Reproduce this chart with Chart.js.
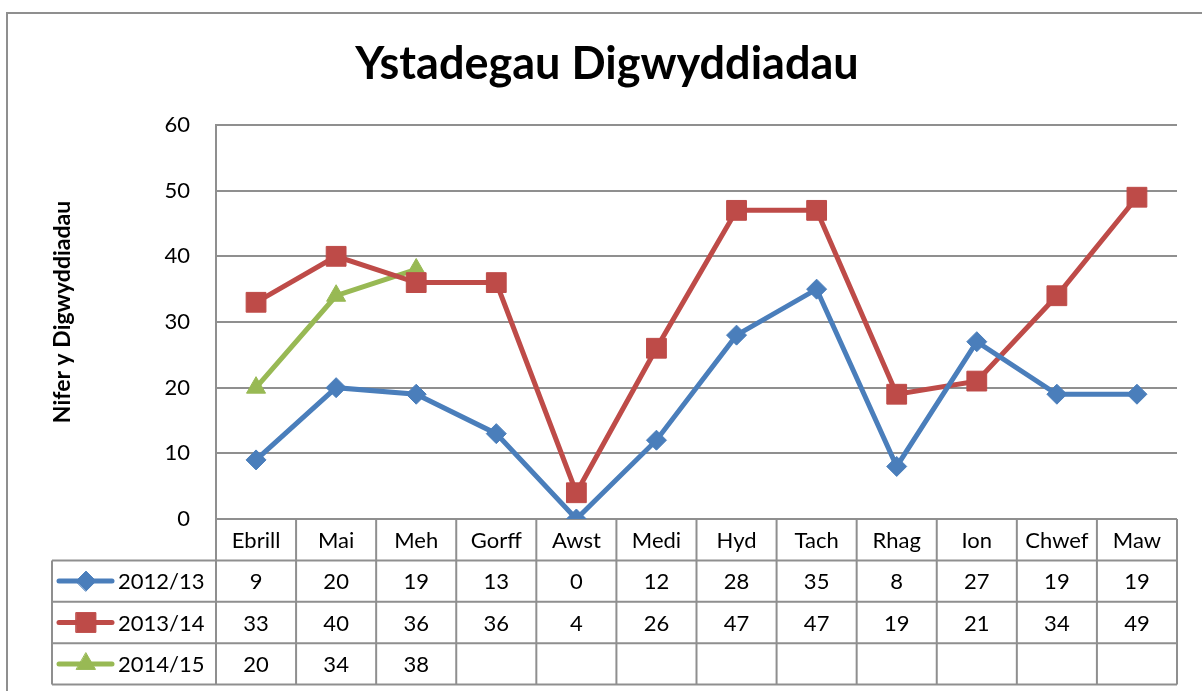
<!DOCTYPE html>
<html><head><meta charset="utf-8">
<script src="https://cdn.jsdelivr.net/npm/chart.js@4/dist/chart.umd.min.js"></script>
<style>html,body{margin:0;padding:0;background:#fff;overflow:hidden}</style>
</head><body>
<canvas id="c" width="1202" height="691" style="width:1202px;height:691px;display:block"></canvas>
<script>
const months = ['Ebrill','Mai','Meh','Gorff','Awst','Medi','Hyd','Tach','Rhag','Ion','Chwef','Maw'];
const seriesNames = ['2012/13','2013/14','2014/15'];
const v2012 = [9,20,19,13,0,12,28,35,8,27,19,19];
const v2013 = [33,40,36,36,4,26,47,47,19,21,34,49];
const v2014 = [20,34,38,null,null,null,null,null,null,null,null,null];
const yTickValues = [0,10,20,30,40,50,60];
const chartTitle = 'Ystadegau Digwyddiadau';
const yAxisTitle = 'Nifer y Digwyddiadau';

const colors = ['#4A7EBB','#BE4B48','#98B954'];
const styles = ['rectRot','rect','triangle'];
const radii = [10,14,11];
const seriesData = [v2012, v2013, v2014];
const GRID = '#8f8f8f';
const FONT = 'Lato, "Open Sans", sans-serif';

function drawKeyPoint(ctx, s, x, y) {
  ctx.save();
  ctx.fillStyle = colors[s]; ctx.strokeStyle = colors[s]; ctx.lineWidth = 1;
  Chart.helpers.drawPoint(ctx, {pointStyle: styles[s], rotation: 0, radius: radii[s], borderWidth: 1}, x, y);
  ctx.restore();
}

const tablePlugin = {
  id: 'tablePlugin',
  afterDraw(chart) {
    const ctx = chart.ctx;
    const ca = chart.chartArea;
    const n = months.length;
    const colW = (ca.right - ca.left) / n;
    const rowH = 41.4;
    const tableBottom = ca.bottom + rowH * 4;
    const legendLeft = 52;
    ctx.save();
    ctx.strokeStyle = GRID; ctx.lineWidth = 2;
    ctx.strokeRect(7, 13, 1400, 900);
    ctx.fillStyle = '#000';
    ctx.font = 'bold 45px ' + FONT;
    ctx.textAlign = 'center'; ctx.textBaseline = 'alphabetic';
    ctx.fillText(chartTitle, 607, 79);
    ctx.save();
    ctx.translate(63, 312);
    ctx.rotate(-Math.PI / 2);
    ctx.font = 'bold 23px ' + FONT;
    ctx.textBaseline = 'middle';
    ctx.fillText(yAxisTitle, 0, 0);
    ctx.restore();
    ctx.strokeStyle = GRID; ctx.lineWidth = 2;
    ctx.beginPath();
    for (let i = 0; i <= n; i++) {
      const x = ca.left + i * colW;
      ctx.moveTo(x, ca.bottom); ctx.lineTo(x, tableBottom);
    }
    ctx.moveTo(legendLeft, ca.bottom + rowH); ctx.lineTo(legendLeft, tableBottom);
    for (let r = 1; r <= 4; r++) {
      const y = ca.bottom + r * rowH;
      ctx.moveTo(legendLeft, y); ctx.lineTo(ca.right, y);
    }
    ctx.stroke();
    ctx.fillStyle = '#000';
    ctx.font = '22px ' + FONT;
    ctx.textAlign = 'center'; ctx.textBaseline = 'middle';
    for (let i = 0; i < n; i++) {
      ctx.fillText(months[i], ca.left + (i + 0.5) * colW, ca.bottom + rowH / 2 + 1);
    }
    for (let s = 0; s < seriesData.length; s++) {
      const cy = ca.bottom + (s + 1.5) * rowH;
      ctx.strokeStyle = colors[s]; ctx.lineWidth = 5; ctx.lineCap = 'round';
      ctx.beginPath(); ctx.moveTo(59, cy); ctx.lineTo(112, cy); ctx.stroke();
      drawKeyPoint(ctx, s, 86, cy);
      ctx.fillStyle = '#000';
      ctx.textAlign = 'left';
      ctx.fillText(seriesNames[s], 118, cy + 1);
      ctx.textAlign = 'center';
      for (let i = 0; i < n; i++) {
        const v = seriesData[s][i];
        if (v !== null && v !== undefined) ctx.fillText(String(v), ca.left + (i + 0.5) * colW, cy + 1);
      }
    }
    ctx.restore();
  }
};

new Chart(document.getElementById('c'), {
  type: 'line',
  data: {
    labels: months,
    datasets: seriesData.map((d, i) => ({
      label: seriesNames[i],
      data: d,
      borderColor: colors[i],
      backgroundColor: colors[i],
      borderWidth: 5,
      tension: 0,
      pointStyle: styles[i],
      pointRadius: radii[i],
      pointHoverRadius: radii[i],
      pointBorderWidth: 1,
      pointBackgroundColor: colors[i],
      pointBorderColor: colors[i]
    }))
  },
  options: {
    responsive: false,
    devicePixelRatio: 1,
    animation: false,
    layout: { padding: { left: 0, right: 25, top: 125, bottom: 172 } },
    plugins: { legend: { display: false }, title: { display: false }, tooltip: { enabled: false } },
    scales: {
      x: { type: 'category', offset: true, display: false },
      y: {
        min: 0, max: 60,
        afterBuildTicks: (s) => { s.ticks = yTickValues.map(v => ({ value: v })); },
        afterFit: (s) => { s.width = 216; },
        grid: { color: GRID, lineWidth: 2, drawTicks: false },
        border: { display: true, color: GRID, width: 2 },
        ticks: { padding: 26, color: '#000', font: { family: FONT, size: 22 } }
      }
    }
  },
  plugins: [tablePlugin]
});
</script>
</body></html>
